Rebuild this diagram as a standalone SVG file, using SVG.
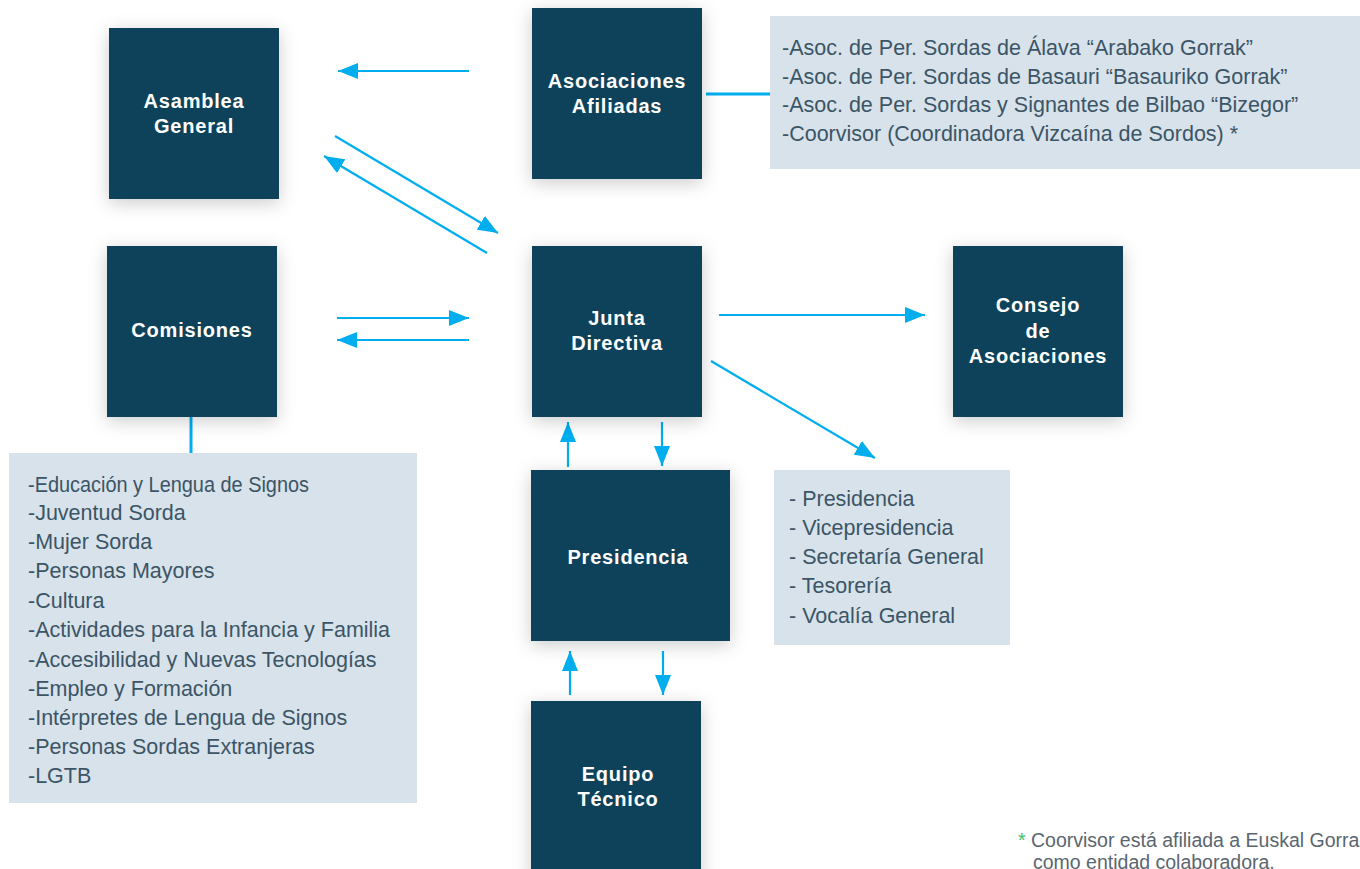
<svg xmlns="http://www.w3.org/2000/svg" width="1360" height="869" viewBox="0 0 1360 869">
<defs>
<filter id="sh" x="-30%" y="-30%" width="160%" height="160%">
<feDropShadow dx="0" dy="4" stdDeviation="9" flood-color="#000" flood-opacity="0.2"/>
</filter>
<marker id="ah" markerUnits="userSpaceOnUse" markerWidth="20" markerHeight="16" refX="20" refY="8" orient="auto">
<path d="M0,0 L20,8 L0,16 z" fill="#00AEEF"/>
</marker>
</defs>
<style>
.node{fill:#07425A;filter:url(#sh);}
.t{font-family:"Liberation Sans",Arial,sans-serif;font-weight:bold;font-size:20px;letter-spacing:0.8px;fill:#FFFFFF;text-anchor:middle;}
.panel{fill:#D8E2EA;}
.l{font-family:"Liberation Sans",Arial,sans-serif;font-size:21.5px;fill:#3B5566;}
.c{stroke:#00AEEF;stroke-width:2.2;fill:none;marker-end:url(#ah);}
.p{stroke:#00AEEF;stroke-width:3;fill:none;}
.fn{font-family:"Liberation Sans",Arial,sans-serif;font-size:19.5px;fill:#5A6670;}
</style>
<rect width="1360" height="869" fill="#FFFFFF"/>

<g id="connectors">
<line class="c" x1="469" y1="71" x2="338" y2="71"/>
<line class="c" x1="335" y1="136" x2="498" y2="233"/>
<line class="c" x1="487" y1="253" x2="324" y2="156"/>
<line class="c" x1="337" y1="318" x2="469" y2="318"/>
<line class="c" x1="469" y1="340" x2="337" y2="340"/>
<line class="c" x1="719" y1="315" x2="925" y2="315"/>
<line class="c" x1="711" y1="361" x2="875" y2="458"/>
<line class="c" x1="568" y1="467" x2="568" y2="422"/>
<line class="c" x1="662" y1="422" x2="662" y2="466"/>
<line class="c" x1="570" y1="695" x2="570" y2="651"/>
<line class="c" x1="663" y1="651" x2="663" y2="695"/>
<line class="p" x1="706" y1="94" x2="770" y2="94"/>
<line class="p" x1="191" y1="417" x2="191" y2="453"/>
</g>

<g id="asamblea-general">
<rect class="node" x="109" y="28" width="170" height="171"/>
<text class="t" x="194" y="108">Asamblea</text>
<text class="t" x="194" y="133">General</text>
</g>

<g id="asociaciones-afiliadas">
<rect class="node" x="532" y="8" width="170" height="171"/>
<text class="t" x="617" y="88">Asociaciones</text>
<text class="t" x="617" y="113">Afiliadas</text>
</g>

<g id="comisiones">
<rect class="node" x="107" y="246" width="170" height="171"/>
<text class="t" x="192" y="337">Comisiones</text>
</g>

<g id="junta-directiva">
<rect class="node" x="532" y="246" width="170" height="171"/>
<text class="t" x="617" y="325">Junta</text>
<text class="t" x="617" y="350">Directiva</text>
</g>

<g id="consejo-asociaciones">
<rect class="node" x="953" y="246" width="170" height="171"/>
<text class="t" x="1038" y="312">Consejo</text>
<text class="t" x="1038" y="338">de</text>
<text class="t" x="1038" y="363">Asociaciones</text>
</g>

<g id="presidencia">
<rect class="node" x="531" y="470" width="199" height="171"/>
<text class="t" x="628" y="564">Presidencia</text>
</g>

<g id="equipo-tecnico">
<rect class="node" x="531" y="701" width="170" height="180"/>
<text class="t" x="618" y="781">Equipo</text>
<text class="t" x="618" y="806">Técnico</text>
</g>

<g id="lista-asociaciones">
<rect class="panel" x="770" y="16" width="600" height="153"/>
<text class="l" x="782" y="55">-Asoc. de Per. Sordas de Álava “Arabako Gorrak”</text>
<text class="l" x="782" y="84">-Asoc. de Per. Sordas de Basauri “Basauriko Gorrak”</text>
<text class="l" x="782" y="112">-Asoc. de Per. Sordas y Signantes de Bilbao “Bizegor”</text>
<text class="l" x="782" y="141">-Coorvisor (Coordinadora Vizcaína de Sordos) *</text>
</g>

<g id="lista-comisiones">
<rect class="panel" x="9" y="453" width="408" height="350"/>
<text class="l" x="28" y="492" textLength="281" lengthAdjust="spacingAndGlyphs">-Educación y  Lengua de Signos</text>
<text class="l" x="28" y="520">-Juventud Sorda</text>
<text class="l" x="28" y="549">-Mujer Sorda</text>
<text class="l" x="28" y="578">-Personas Mayores</text>
<text class="l" x="28" y="608">-Cultura</text>
<text class="l" x="28" y="637">-Actividades para la Infancia y Familia</text>
<text class="l" x="28" y="667">-Accesibilidad y Nuevas Tecnologías</text>
<text class="l" x="28" y="696">-Empleo y Formación</text>
<text class="l" x="28" y="725">-Intérpretes de Lengua de Signos</text>
<text class="l" x="28" y="754">-Personas Sordas Extranjeras</text>
<text class="l" x="28" y="783">-LGTB</text>
</g>

<g id="lista-junta">
<rect class="panel" x="774" y="470" width="236" height="175"/>
<text class="l" x="789" y="506">- Presidencia</text>
<text class="l" x="789" y="535">- Vicepresidencia</text>
<text class="l" x="789" y="564">- Secretaría General</text>
<text class="l" x="789" y="593">- Tesorería</text>
<text class="l" x="789" y="623">- Vocalía General</text>
</g>

<g id="nota">
<text class="fn" x="1018" y="847"><tspan fill="#3DBE6A">*</tspan> Coorvisor está afiliada a Euskal Gorrak</text>
<text class="fn" x="1033" y="869">como entidad colaboradora.</text>
</g>
</svg>
